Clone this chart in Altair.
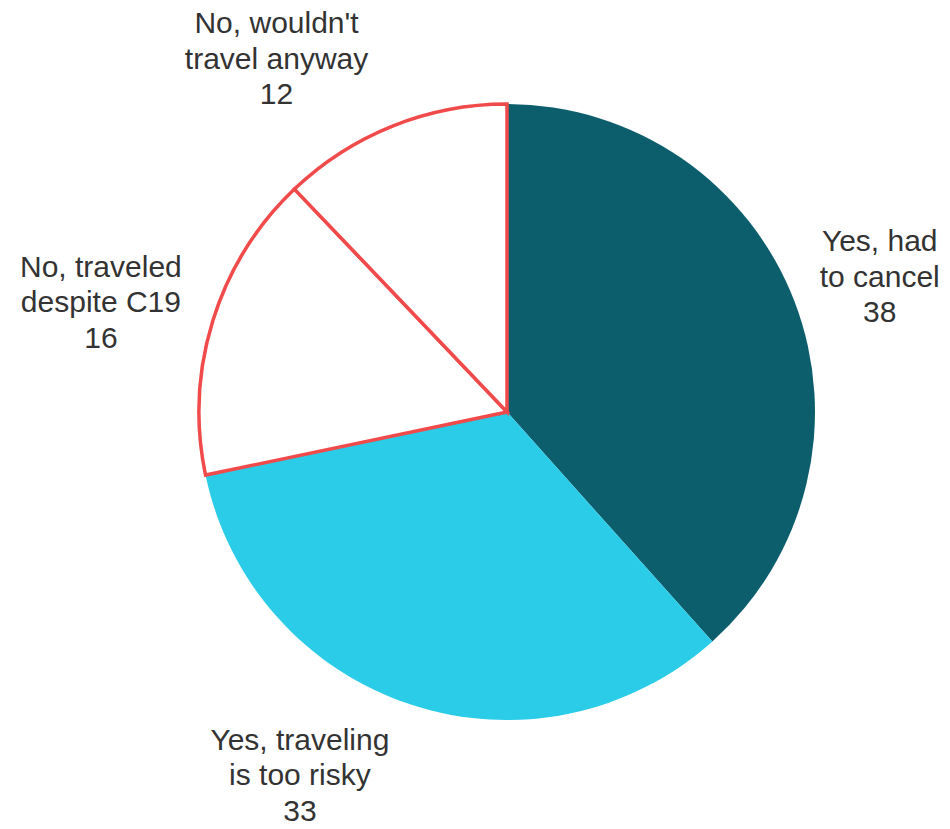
import math
import altair as alt
import pandas as pd

# ---- data ----
categories = ["Yes, had to cancel", "Yes, traveling is too risky", "No, traveled despite C19", "No, wouldn't travel anyway"]
label_lines = [["Yes, had", "to cancel"], ["Yes, traveling", "is too risky"], ["No, traveled", "despite C19"], ["No, wouldn't", "travel anyway"]]
values = [38, 33, 16, 12]

# ---- styles ----
fill_colors = ["#0d5e6d", "#2bcce8", "#ffffff", "#ffffff"]
stroke_colors = ["transparent", "transparent", "#f04a4a", "#f04a4a"]
label_dx = [85, -111, -112, -116]
label_dy = [-60, 36, -53, -102]
CX, CY, R = 499, 404, 308

total = sum(values)
mids = []
cum = 0
for v in values:
    mids.append((cum + v / 2) / total * 2 * math.pi)
    cum += v

df = pd.DataFrame({
    "cat": categories,
    "value": values,
    "idx": list(range(len(values))),
    "mid": mids,
    "label": ["\n".join(l + [str(v)]) for l, v in zip(label_lines, values)],
})

base = alt.Chart(df)

arcs = base.mark_arc(outerRadius=R, strokeWidth=3.5).encode(
    theta=alt.Theta("value:Q", stack=True),
    order=alt.Order("idx:Q"),
    color=alt.Color("cat:N", scale=alt.Scale(domain=categories, range=fill_colors), legend=None),
    stroke=alt.Stroke("cat:N", scale=alt.Scale(domain=categories, range=stroke_colors), legend=None),
    x=alt.value(CX),
    y=alt.value(CY),
)

layers = [arcs]
for i, c in enumerate(categories):
    t = base.transform_filter(alt.datum.cat == c).mark_text(
        font="Liberation Sans", fontSize=30, lineHeight=35.5, color="#333333",
        align="center", baseline="middle", lineBreak="\n",
        radius=R, dx=label_dx[i], dy=label_dy[i],
    ).encode(
        theta=alt.Theta("mid:Q", scale=None),
        text="label:N",
        x=alt.value(CX),
        y=alt.value(CY),
    )
    layers.append(t)

chart = alt.layer(*layers).properties(
    width=934, height=821, padding=0,
    autosize=alt.AutoSizeParams(type="none"),
).configure_view(stroke=None)

chart.save("out.html", embed_options={"renderer": "svg", "actions": False})
